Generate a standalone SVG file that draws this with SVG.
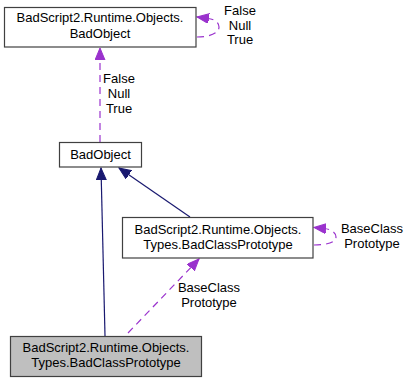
<svg xmlns="http://www.w3.org/2000/svg" width="411" height="383" viewBox="0 0 411 383">
  <style>
    .box { fill: #ffffff; stroke: #404040; stroke-width: 1.2; }
    .box.cur { fill: #bfbfbf; }
    text { font-family: "Liberation Sans", Arial, sans-serif; font-size: 13px; fill: #000000; text-anchor: middle; }
    .inh { fill: none; stroke: #191970; stroke-width: 1.2; }
    .use { fill: none; stroke: #9a32cd; stroke-width: 1.2; stroke-dasharray: 7,5; }
  </style>
  <defs>
    <marker id="headInh" markerUnits="userSpaceOnUse" markerWidth="14" markerHeight="12" refX="12" refY="5" orient="auto">
      <path d="M0,0 L12,5 L0,10 Z" fill="#191970" stroke="#191970" stroke-width="1"/>
    </marker>
    <marker id="headUse" markerUnits="userSpaceOnUse" markerWidth="14" markerHeight="12" refX="12" refY="5" orient="auto">
      <path d="M0,0 L12,5 L0,10 Z" fill="#9a32cd" stroke="#9a32cd" stroke-width="1"/>
    </marker>
  </defs>

  <!-- connectors -->
  <g id="edges">
    <path class="use" d="M100,142 L100,48" marker-end="url(#headUse)"/>
    <path class="use" d="M197,37 C208,37 219,34 219,27 C219,22 214,19 208,18.5 L197,17" marker-end="url(#headUse)"/>
    <path class="inh" d="M105,336 L101,168" marker-end="url(#headInh)"/>
    <path class="inh" d="M190,217 L119,168" marker-end="url(#headInh)"/>
    <path class="use" d="M314,245 C325,245 336,243 336,237 C336,232 330,229 324,228.5 L314,227.5" marker-end="url(#headUse)"/>
    <path class="use" d="M128,333 L199,259" marker-end="url(#headUse)"/>
    <g id="edge-labels">
      <text x="119" y="83">False</text>
      <text x="119" y="98">Null</text>
      <text x="119" y="113">True</text>
      <text x="240" y="15">False</text>
      <text x="240" y="30">Null</text>
      <text x="240" y="44">True</text>
      <text x="372" y="233">BaseClass</text>
      <text x="372" y="248">Prototype</text>
      <text x="209" y="292">BaseClass</text>
      <text x="209" y="307">Prototype</text>
    </g>
  </g>

  <g id="node-badobject-full">
    <rect class="box" x="4.5" y="7.5" width="191.5" height="39.5"/>
    <text x="100" y="22">BadScript2.Runtime.Objects.</text>
    <text x="100" y="38">BadObject</text>
  </g>

  <g id="node-badobject">
    <rect class="box" x="59.5" y="142.5" width="82" height="24.5"/>
    <text x="100.5" y="158.5">BadObject</text>
  </g>

  <g id="node-badclassprototype-base">
    <rect class="box" x="122.5" y="217.5" width="190.5" height="40.5"/>
    <text x="218" y="234">BadScript2.Runtime.Objects.</text>
    <text x="218" y="249">Types.BadClassPrototype</text>
  </g>

  <g id="node-badclassprototype">
    <rect class="box cur" x="10.5" y="336.5" width="191" height="40"/>
    <text x="106" y="352">BadScript2.Runtime.Objects.</text>
    <text x="106" y="367">Types.BadClassPrototype</text>
  </g>
</svg>
